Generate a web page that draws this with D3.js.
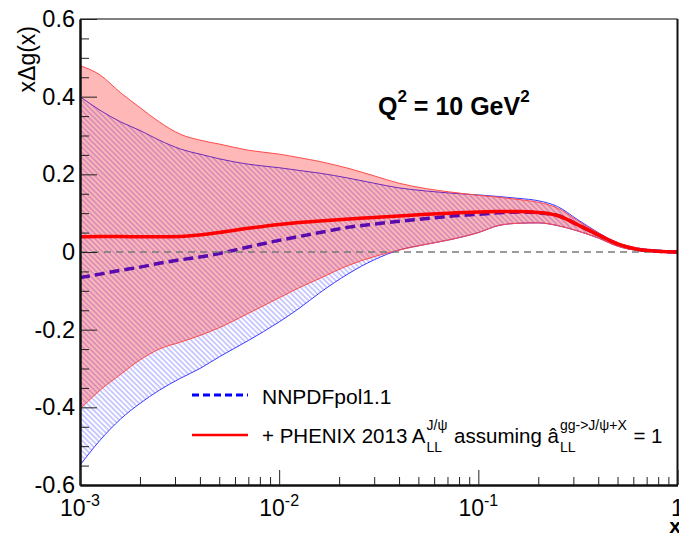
<!DOCTYPE html>
<html>
<head>
<meta charset="utf-8">
<script src="https://cdn.jsdelivr.net/npm/d3@7"></script>
<style>
  body { margin: 0; background: #fff; }
  svg { display: block; }
  text { font-family: "Liberation Sans", Arial, Helvetica, sans-serif; }
</style>
</head>
<body>
<svg id="chart"></svg>
<script>
// x values shared by every curve
const xGrid = [0.001, 0.00126, 0.0016, 0.002, 0.0025, 0.0032, 0.004, 0.005, 0.007, 0.01,
  0.0126, 0.016, 0.0224, 0.03, 0.04, 0.055, 0.071, 0.1, 0.126, 0.16,
  0.2, 0.25, 0.316, 0.4, 0.5, 0.63, 0.8, 1.0];

// NNPDFpol1.1 (blue, hatched band + dashed central)
const nnpdfCentral = [-0.066, -0.057, -0.047, -0.039, -0.029, -0.02, -0.013, -0.004, 0.013, 0.03,
  0.04, 0.05, 0.064, 0.072, 0.079, 0.086, 0.092, 0.097, 0.101, 0.103,
  0.101, 0.094, 0.07, 0.044, 0.021, 0.007, 0.002, 0];
const nnpdfUpper = [0.40, 0.365, 0.335, 0.313, 0.288, 0.265, 0.252, 0.24, 0.226, 0.217,
  0.21, 0.203, 0.19, 0.177, 0.165, 0.157, 0.152, 0.147, 0.143, 0.138,
  0.132, 0.117, 0.083, 0.05, 0.023, 0.008, 0.002, 0];
const nnpdfLower = [-0.549, -0.485, -0.43, -0.39, -0.356, -0.325, -0.30, -0.27, -0.228, -0.18,
  -0.145, -0.105, -0.055, -0.02, 0.005, 0.02, 0.031, 0.05, 0.068, 0.074,
  0.075, 0.068, 0.054, 0.036, 0.015, 0.004, 0.001, 0];

// + PHENIX 2013 (red band + solid central)
const phenixCentral = [0.039, 0.04, 0.04, 0.039, 0.039, 0.04, 0.044, 0.05, 0.061, 0.071,
  0.076, 0.08, 0.085, 0.089, 0.093, 0.097, 0.1, 0.103, 0.104, 0.104,
  0.102, 0.094, 0.07, 0.044, 0.021, 0.007, 0.002, 0];
const phenixUpper = [0.48, 0.456, 0.41, 0.372, 0.335, 0.303, 0.288, 0.278, 0.262, 0.252,
  0.243, 0.233, 0.215, 0.196, 0.177, 0.163, 0.155, 0.146, 0.141, 0.135,
  0.128, 0.113, 0.08, 0.049, 0.023, 0.008, 0.002, 0];
const phenixLower = [-0.405, -0.356, -0.315, -0.278, -0.25, -0.232, -0.215, -0.195, -0.158, -0.118,
  -0.092, -0.068, -0.034, -0.012, 0.005, 0.02, 0.031, 0.05, 0.068, 0.074,
  0.075, 0.068, 0.054, 0.036, 0.015, 0.004, 0.001, 0];

const yTicks = [-0.6, -0.4, -0.2, 0, 0.2, 0.4, 0.6];
const yTickLabels = ["-0.6", "-0.4", "-0.2", "0", "0.2", "0.4", "0.6"];
const xTicks = [1e-3, 1e-2, 1e-1, 1];
const xTickBase = ["10", "10", "10", "1"];
const xTickExp = ["-3", "-2", "-1", ""];

const legendNames = ["NNPDFpol1.1"];
const legendPhenix = [
  { t: "+ PHENIX 2013 A" },
  { sup: "J/ψ", sub: "LL" },
  { t: " assuming â" },
  { sup: "gg->J/ψ+X", sub: "LL" },
  { t: " = 1" }
];

const W = 679, H = 535;
const M = { left: 80, top: 19, right: 677.5, bottom: 485 };

const svg = d3.select("#chart").attr("width", W).attr("height", H);
svg.append("rect").attr("width", W).attr("height", H).attr("fill", "#fff");

const x = d3.scaleLog().domain([1e-3, 1]).range([M.left, M.right]);
const y = d3.scaleLinear().domain([-0.6, 0.6]).range([M.bottom, M.top]);

const defs = svg.append("defs");
defs.append("clipPath").attr("id", "plotclip")
  .append("rect")
  .attr("x", M.left).attr("y", M.top)
  .attr("width", M.right - M.left).attr("height", M.bottom - M.top);

const hatch = defs.append("pattern")
  .attr("id", "hatch")
  .attr("patternUnits", "userSpaceOnUse")
  .attr("width", 8).attr("height", 3.7)
  .attr("patternTransform", "rotate(45)");
hatch.append("line")
  .attr("x1", 0).attr("x2", 8).attr("y1", 1.85).attr("y2", 1.85)
  .attr("stroke", "#7878ff").attr("stroke-width", 0.8);

const rows = xGrid.map((xv, i) => ({
  x: xv,
  nc: nnpdfCentral[i], nu: nnpdfUpper[i], nl: nnpdfLower[i],
  pc: phenixCentral[i], pu: phenixUpper[i], pl: phenixLower[i]
}));

const plot = svg.append("g").attr("clip-path", "url(#plotclip)");
const crv = d3.curveMonotoneX;
const line = key => d3.line().x(d => x(d.x)).y(d => y(d[key])).curve(crv);
const area = (lo, hi) => d3.area().x(d => x(d.x)).y0(d => y(d[lo])).y1(d => y(d[hi])).curve(crv);

// NNPDF band
plot.append("path").datum(rows).attr("d", area("nl", "nu")).attr("fill", "url(#hatch)");
plot.append("path").datum(rows).attr("d", line("nu")).attr("fill", "none").attr("stroke", "#3a3aff").attr("stroke-width", 1);
plot.append("path").datum(rows).attr("d", line("nl")).attr("fill", "none").attr("stroke", "#3a3aff").attr("stroke-width", 1);
plot.append("path").datum(rows).attr("d", line("nc")).attr("fill", "none")
  .attr("stroke", "#1a10f0").attr("stroke-width", 3.5).attr("stroke-dasharray", "10,5");

// PHENIX band
plot.append("path").datum(rows).attr("d", area("pl", "pu")).attr("fill", "rgba(255,0,0,0.28)");
plot.append("path").datum(rows).attr("d", line("pu")).attr("fill", "none").attr("stroke", "#ff4a4a").attr("stroke-width", 1);
plot.append("path").datum(rows).attr("d", line("pl")).attr("fill", "none").attr("stroke", "#ff4a4a").attr("stroke-width", 1);

// zero line
plot.append("line")
  .attr("x1", M.left).attr("x2", M.right).attr("y1", y(0)).attr("y2", y(0))
  .attr("stroke", "#7a7a7a").attr("stroke-width", 1.6).attr("stroke-dasharray", "7,5");

plot.append("path").datum(rows).attr("d", line("pc")).attr("fill", "none")
  .attr("stroke", "#ff0000").attr("stroke-width", 3.5);

// frame: top and right
svg.append("line").attr("x1", M.left).attr("x2", M.right).attr("y1", M.top).attr("y2", M.top)
  .attr("stroke", "#808080").attr("stroke-width", 2);
svg.append("line").attr("x1", M.right).attr("x2", M.right).attr("y1", M.top).attr("y2", M.bottom)
  .attr("stroke", "#111").attr("stroke-width", 2);

// y axis
const yMinor = d3.range(-0.6, 0.6001, 0.05).map(v => +v.toFixed(2)).filter(v => !yTicks.includes(v));
const yAx = svg.append("g").attr("transform", `translate(${M.left},0)`);
yAx.append("g").call(d3.axisLeft(y).tickValues(yMinor).tickSize(-9).tickSizeOuter(0).tickFormat(""));
yAx.append("g").call(d3.axisLeft(y).tickValues(yTicks).tickSize(-17).tickSizeOuter(0).tickPadding(5)
  .tickFormat((d, i) => yTickLabels[i]));
yAx.selectAll(".tick line").attr("stroke", "#222");
yAx.selectAll("path.domain").attr("stroke", "#111").attr("stroke-width", 2);
yAx.selectAll("text").attr("font-size", 23.5).attr("fill", "#000")
  .attr("font-family", '"Liberation Sans", Arial, sans-serif');

// x axis
const xMinor = [];
[1e-3, 1e-2, 1e-1].forEach(dec => { for (let k = 2; k <= 9; k++) xMinor.push(dec * k); });
const xAx = svg.append("g").attr("transform", `translate(0,${M.bottom})`);
xAx.append("g").call(d3.axisBottom(x).tickValues(xMinor).tickSize(-8).tickSizeOuter(0).tickFormat(""));
xAx.append("g").call(d3.axisBottom(x).tickValues(xTicks).tickSize(-15).tickSizeOuter(0).tickFormat(""));
xAx.selectAll(".tick line").attr("stroke", "#222");
xAx.selectAll("path.domain").attr("stroke", "#111").attr("stroke-width", 2);

const xLab = svg.append("g").selectAll("text").data(xTicks).join("text")
  .attr("x", d => x(d)).attr("y", 516)
  .attr("text-anchor", "middle").attr("font-size", 23);
xLab.append("tspan").text((d, i) => xTickBase[i]);
xLab.append("tspan").attr("dy", -10).attr("font-size", 16).text((d, i) => xTickExp[i]);

// axis titles
svg.append("text").attr("transform", "translate(35,26) rotate(-90)")
  .attr("text-anchor", "end").attr("font-size", 23).text("xΔg(x)");
svg.append("text").attr("x", 681).attr("y", 533).attr("text-anchor", "end")
  .attr("font-size", 21).attr("font-weight", "bold").text("x");

// Q^2 label
const q = svg.append("text").attr("x", 378).attr("y", 115).attr("font-size", 25).attr("font-weight", "bold");
q.append("tspan").text("Q");
q.append("tspan").attr("dy", -13).attr("font-size", 17).text("2");
q.append("tspan").attr("dy", 13).text(" = 10 GeV");
q.append("tspan").attr("dy", -13).attr("font-size", 17).text("2");

// legend
const leg = svg.append("g");
leg.append("line").attr("x1", 192).attr("x2", 248).attr("y1", 395).attr("y2", 395)
  .attr("stroke", "#0000ff").attr("stroke-width", 3).attr("stroke-dasharray", "7,4");
leg.append("text").attr("x", 262).attr("y", 404).attr("font-size", 21).text(legendNames[0]);
leg.append("line").attr("x1", 192).attr("x2", 248).attr("y1", 435).attr("y2", 435)
  .attr("stroke", "#ff0000").attr("stroke-width", 2.5);

let cx = 262;
const base = 443;
legendPhenix.forEach(p => {
  if (p.t !== undefined) {
    const t = leg.append("text").attr("x", cx).attr("y", base).attr("font-size", 20.5)
      .style("white-space", "pre").text(p.t);
    cx += t.node().getComputedTextLength();
  } else {
    const s1 = leg.append("text").attr("x", cx + 1).attr("y", base - 13).attr("font-size", 14).text(p.sup);
    const s2 = leg.append("text").attr("x", cx + 1).attr("y", base + 9).attr("font-size", 14).text(p.sub);
    cx += 2 + Math.max(s1.node().getComputedTextLength(), s2.node().getComputedTextLength());
  }
});
</script>
</body>
</html>
